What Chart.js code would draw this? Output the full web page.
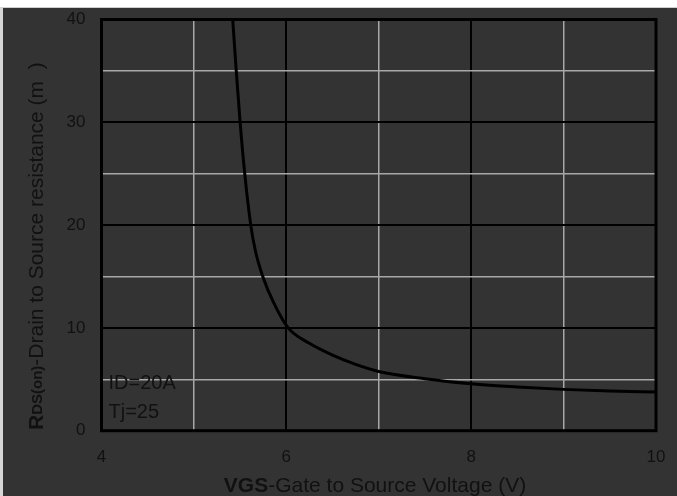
<!DOCTYPE html>
<html>
<head>
<meta charset="utf-8">
<script src="https://cdn.jsdelivr.net/npm/chart.js@4"></script>
<style>
  html, body { margin: 0; padding: 0; background: #fff; }
  #wrap { position: relative; width: 677px; height: 496px; overflow: hidden; }
  #panel { position: absolute; left: 0; top: 7px; width: 677px; height: 489px; box-sizing: border-box;
           border-top: 1px solid #cfcfcf; border-left: 3px solid #d6d6d6; background: #333333; }
  #chart { position: absolute; left: 0; top: 0; }
</style>
</head>
<body>
<div id="wrap">
  <div id="panel"></div>
  <canvas id="chart" width="677" height="496"></canvas>
</div>
<script>
// RDS(on) vs VGS
const vgs = [5.42, 5.458, 5.50, 5.55, 5.615, 5.665, 5.745, 5.86, 6.02, 6.25, 6.5, 6.75, 7.0, 7.5, 8.0, 8.5, 9.0, 9.5, 10.0]
const rds = [40, 35, 30, 25, 20, 17.5, 15, 12.5, 10, 8.5, 7.35, 6.45, 5.76, 5.05, 4.56, 4.25, 4.02, 3.87, 3.76]

const xTicks = [4, 6, 8, 10]
const yTicks = [0, 10, 20, 30, 40]
const notes = ['ID=20A', 'Tj=25']

const textColor = '#111'
const fontFam = '"Liberation Sans", Arial, sans-serif'

const frame = {
    id: 'frame',
    afterDraw(chart) {
        const c = chart.ctx
        const a = chart.chartArea
        c.save()
        c.strokeStyle = '#000'
        c.lineWidth = 3
        c.strokeRect(a.left, a.top, a.right - a.left, a.bottom - a.top)

        c.fillStyle = textColor
        c.textBaseline = 'alphabetic'
        // notes inside plot
        c.font = '20px ' + fontFam
        c.textAlign = 'left'
        c.fillText(notes[0], a.left + 7, 389)
        c.fillText(notes[1], a.left + 7, 418)

        // x title: bold VGS + rest
        c.font = 'bold 21px ' + fontFam
        const w1 = c.measureText('VGS').width
        c.font = '21px ' + fontFam
        const rest = '-Gate to Source Voltage (V)'
        const w2 = c.measureText(rest).width
        let x0 = 375 - (w1 + w2) / 2
        c.font = 'bold 21px ' + fontFam
        c.fillText('VGS', x0, 492)
        c.font = '21px ' + fontFam
        c.fillText(rest, x0 + w1, 492)

        // y title rotated
        c.translate(43, 430)
        c.rotate(-Math.PI / 2)
        let px = 0
        c.font = 'bold 21px ' + fontFam
        c.fillText('R', px, 0)
        px += c.measureText('R').width
        c.font = 'bold 15px ' + fontFam
        c.fillText('DS(on)', px, -1)
        px += c.measureText('DS(on)').width
        c.font = '21px ' + fontFam
        c.fillText('-Drain to Source resistance (m  )', px, 0)
        c.restore()
    }
}

const ctx_rds = document.getElementById('chart')
const chart_rds = new Chart(ctx_rds, {
    type: 'line',
    data: {
        datasets: [{
            label: 'RDS(on)',
            data: vgs.map((v, i) => ({ x: v, y: rds[i] })),
            borderColor: '#000',
            borderWidth: 3,
            pointRadius: 0,
            cubicInterpolationMode: 'monotone',
            fill: false
        }]
    },
    options: {
        responsive: false,
        animation: false,
        devicePixelRatio: 1,
        layout: { padding: { top: 19.5, right: 21, left: 0, bottom: 0 } },
        plugins: { legend: { display: false }, tooltip: { enabled: false } },
        scales: {
            x: {
                type: 'linear',
                min: 4,
                max: 10,
                afterFit: (s) => {
                    s.height = 65.3
                    s.paddingLeft = 0
                    s.paddingRight = 0
                },
                border: { display: false },
                grid: {
                    drawTicks: false,
                    color: (c) => c.tick.value % 2 === 0 ? '#000' : '#a8a8a8',
                    lineWidth: (c) => c.tick.value % 2 === 0 ? 2 : 1.5
                },
                ticks: {
                    stepSize: 1,
                    padding: 16,
                    color: textColor,
                    font: { family: fontFam, size: 17 },
                    callback: (v) => xTicks.includes(v) ? String(v) : ''
                }
            },
            y: {
                min: 0,
                max: 40,
                afterFit: (s) => {
                    s.width = 101.5
                    s.paddingTop = 0
                    s.paddingBottom = 0
                },
                border: { display: false },
                grid: {
                    drawTicks: false,
                    color: (c) => c.tick.value % 10 === 0 ? '#000' : '#a8a8a8',
                    lineWidth: (c) => c.tick.value % 10 === 0 ? 2 : 1.5
                },
                ticks: {
                    stepSize: 5,
                    padding: 16,
                    color: textColor,
                    font: { family: fontFam, size: 17 },
                    callback: (v) => yTicks.includes(v) ? String(v) : ''
                }
            }
        }
    },
    plugins: [frame]
})
</script>
</body>
</html>
